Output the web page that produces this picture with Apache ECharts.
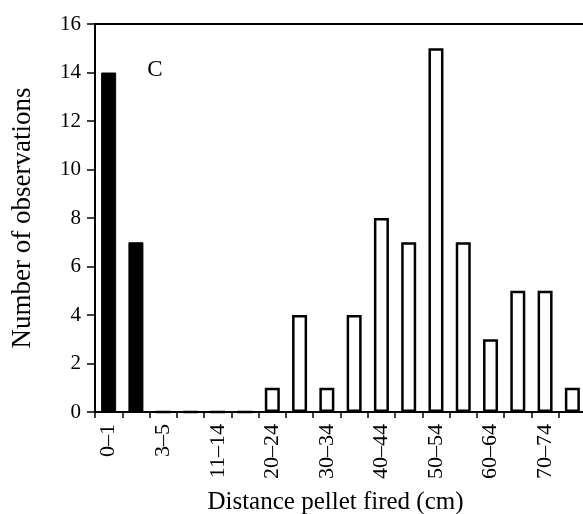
<!DOCTYPE html>
<html>
<head>
<meta charset="utf-8">
<script src="https://cdn.jsdelivr.net/npm/echarts@6/dist/echarts.min.js"></script>
<style>html,body{margin:0;padding:0;background:#fff}#c{width:583px;height:514px}</style>
</head>
<body>
<div id="c"></div>
<script>
var categories = ['0–1','1–3','3–5','5–11','11–14','14–20','20–24','25–29','30–34','35–39','40–44','45–49','50–54','55–59','60–64','65–69','70–74','75–79'];
var counts = [14, 7, 0, 0, 0, 0, 1, 4, 1, 4, 8, 7, 15, 7, 3, 5, 5, 1];
var yTicks = [0, 2, 4, 6, 8, 10, 12, 14, 16];
var filledCount = 2;

var font = 'Liberation Serif';
var chart = echarts.init(document.getElementById('c'), null, {renderer: 'canvas'});
chart.setOption({
  animation: false,
  backgroundColor: '#fff',
  grid: {left: 95, top: 24, right: -3, bottom: 102, containLabel: false, outerBoundsMode: 'none', show: true, borderColor: '#000', borderWidth: 2, backgroundColor: 'transparent'},
  xAxis: {
    type: 'category',
    data: categories,
    name: 'Distance pellet fired (cm)',
    nameLocation: 'middle',
    nameGap: 78,
    nameTextStyle: {fontFamily: font, fontSize: 25, color: '#000', padding: [0, 10, 0, 0]},
    axisLine: {lineStyle: {color: '#000', width: 2}},
    axisTick: {show: true, interval: 0, length: 6, lineStyle: {color: '#000', width: 1.5}},
    axisLabel: {interval: 1, rotate: 90, fontFamily: font, fontSize: 22, color: '#000', margin: 12}
  },
  yAxis: {
    type: 'value',
    min: yTicks[0],
    max: yTicks[yTicks.length - 1],
    interval: 2,
    name: 'Number of observations',
    nameLocation: 'middle',
    nameGap: 59,
    nameTextStyle: {fontFamily: font, fontSize: 27, color: '#000'},
    splitLine: {show: false},
    axisLine: {show: true, lineStyle: {color: '#000', width: 2}},
    axisTick: {show: true, length: 8, lineStyle: {color: '#000', width: 1.5}},
    axisLabel: {fontFamily: font, fontSize: 21, color: '#000', margin: 14}
  },
  series: [{
    type: 'bar',
    barWidth: 15,
    data: counts.map(function (v, i) {
      return {
        value: v,
        itemStyle: i < filledCount
          ? {color: '#000', borderColor: '#000', borderWidth: 1}
          : {color: '#fff', borderColor: '#000', borderWidth: 2.5}
      };
    })
  }],
  graphic: [{
    type: 'text',
    x: 155, y: 70,
    style: {text: 'C', fontFamily: font, fontSize: 23, fill: '#000', align: 'center', verticalAlign: 'middle'}
  }]
});
</script>
</body>
</html>
